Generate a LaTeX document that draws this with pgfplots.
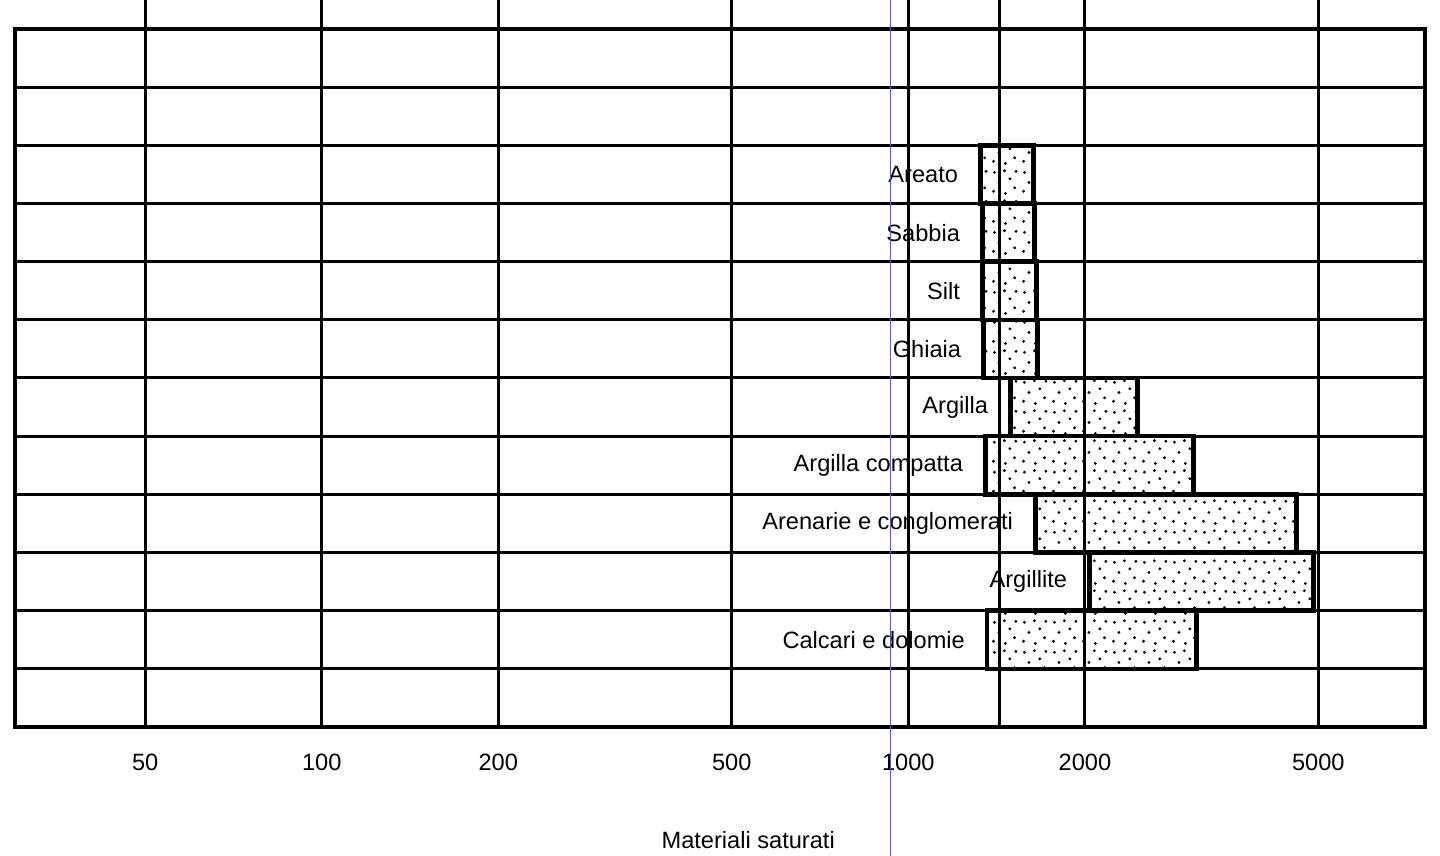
\documentclass[border=0pt]{standalone}
\usepackage{fontspec}
\setmainfont{Liberation Sans}
\usepackage{pgfplots}
\pgfplotsset{compat=1.18}
\usetikzlibrary{patterns}

% sparse stipple like the scanned bars
\pgfdeclarepatternformonly{sparsedots}{\pgfqpoint{0pt}{0pt}}{\pgfqpoint{15pt}{15pt}}{\pgfqpoint{15pt}{15pt}}{%
  \pgfpathcircle{\pgfqpoint{1.8pt}{2.4pt}}{0.8pt}
  \pgfpathcircle{\pgfqpoint{7.9pt}{1.3pt}}{0.8pt}
  \pgfpathcircle{\pgfqpoint{12.6pt}{4.2pt}}{0.8pt}
  \pgfpathcircle{\pgfqpoint{4.6pt}{6.9pt}}{0.8pt}
  \pgfpathcircle{\pgfqpoint{10.2pt}{8.8pt}}{0.8pt}
  \pgfpathcircle{\pgfqpoint{2.3pt}{12.1pt}}{0.8pt}
  \pgfpathcircle{\pgfqpoint{7.4pt}{12.9pt}}{0.8pt}
  \pgfpathcircle{\pgfqpoint{13.3pt}{12.6pt}}{0.8pt}
  \pgfusepath{fill}}

\begin{document}
\begin{tikzpicture}[font=\fontsize{11.8}{14}\selectfont,
    mybar/.style={draw=black, line width=2.2pt, pattern=sparsedots},
    mylab/.style={anchor=east, inner sep=0pt, xshift=-11pt}]
\path[use as bounding box] (-7.5pt,-64.5pt) rectangle (712.5pt,363.5pt);
\begin{axis}[
    at={(0,0)}, anchor=south west,
    scale only axis, width=705pt, height=349pt,
    xmode=log, xmin=30, xmax=7600,
    ymin=0, ymax=12,
    xtick={50,100,200,500,1000,2000,5000},
    xticklabels={50,100,200,500,1000,2000,5000},
    extra x ticks={1430}, extra x tick labels={},
    ytick={1,...,11}, yticklabels={},
    grid=major,
    major grid style={black, line width=1.5pt},
    tick style={draw=none},
    axis line style={line width=2.4pt},
    /pgf/number format/assume math mode=true,
    tick label style={font=\fontsize{11.8}{14}\selectfont},
    xticklabel style={yshift=-10pt},
    xlabel={Materiali saturati},
    xlabel style={at={(axis description cs:0.52,0)}, anchor=center, yshift=-56.5pt,
                  font=\fontsize{11.8}{14}\selectfont},
    clip=false,
]
% grid lines run past the top of the frame
\pgfplotsinvokeforeach{50,100,200,500,1000,1430,2000,5000}{
  \draw[black, line width=1.5pt] (axis cs:#1,12) -- (axis cs:#1,12.6);
}

\addplot[mybar] coordinates {(1327,9) (1634,9) (1634,10) (1327,10)} -- cycle;
\addplot[mybar] coordinates {(1337,8) (1640,8) (1640,9) (1337,9)} -- cycle;
\addplot[mybar] coordinates {(1337,7) (1653,7) (1653,8) (1337,8)} -- cycle;
\addplot[mybar] coordinates {(1343,6) (1660,6) (1660,7) (1343,7)} -- cycle;
\addplot[mybar] coordinates {(1493,5) (2457,5) (2457,6) (1493,6)} -- cycle;
\addplot[mybar] coordinates {(1353,4) (3061,4) (3061,5) (1353,5)} -- cycle;
\addplot[mybar] coordinates {(1646,3) (4587,3) (4587,4) (1646,4)} -- cycle;
\addplot[mybar] coordinates {(2035,2) (4903,2) (4903,3) (2035,3)} -- cycle;
\addplot[mybar] coordinates {(1363,1) (3097,1) (3097,2) (1363,2)} -- cycle;

\node[mylab] at (axis cs:1327,9.5) {Areato};
\node[mylab] at (axis cs:1337,8.5) {Sabbia};
\node[mylab] at (axis cs:1337,7.5) {Silt};
\node[mylab] at (axis cs:1343,6.5) {Ghiaia};
\node[mylab] at (axis cs:1493,5.5) {Argilla};
\node[mylab] at (axis cs:1353,4.5) {Argilla compatta};
\node[mylab] at (axis cs:1646,3.5) {Arenarie e conglomerati};
\node[mylab] at (axis cs:2035,2.5) {Argillite};
\node[mylab] at (axis cs:1363,1.5) {Calcari e dolomie};

% thin blue scan line
\addplot[color={rgb,255:red,70;green,90;blue,255}, line width=0.6pt] coordinates {(931,-2.4) (931,12.6)};
\end{axis}
\end{tikzpicture}
\end{document}
